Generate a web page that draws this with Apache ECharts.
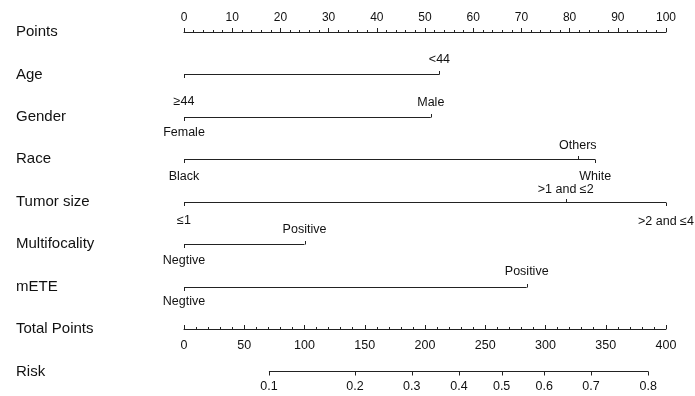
<!DOCTYPE html>
<html>
<head>
<meta charset="utf-8">
<script src="https://cdn.jsdelivr.net/npm/echarts@6/dist/echarts.min.js"></script>
<style>html,body{margin:0;padding:0;background:#fff;}#c{width:695px;height:396px;}</style>
</head>
<body>
<div id="c"></div>
<script>
// ---- data ----
const rowNames = ['Points', 'Age', 'Gender', 'Race', 'Tumor size', 'Multifocality', 'mETE', 'Total Points', 'Risk'];
const pointsMin = 0, pointsMax = 100, pointsStep = 10;
const totalMin = 0, totalMax = 400, totalStep = 50;

const ageLevels = ['≥44', '<44'];
const agePoints = [0, 53];
const genderLevels = ['Female', 'Male'];
const genderPoints = [0, 51.2];
const raceLevels = ['Black', 'Others', 'White'];
const racePoints = [0, 81.7, 85.3];
const tumorLevels = ['≤1', '>1 and ≤2', '>2 and ≤4'];
const tumorPoints = [0, 79.2, 100];
const multiLevels = ['Negtive', 'Positive'];
const multiPoints = [0, 25];
const meteLevels = ['Negtive', 'Positive'];
const metePoints = [0, 71.1];

const riskLabels = ['0.1', '0.2', '0.3', '0.4', '0.5', '0.6', '0.7', '0.8'];
const riskTotalPoints = [70.5, 141.9, 189, 228.2, 263.6, 299, 337.8, 385.3];

// ---- layout (label vertical offsets in px; negative = above line) ----
const labelOffsets = {
  Age: [27, -15],
  Gender: [15, -15],
  Race: [17, -14, 17],
  'Tumor size': [18, -13, 19],
  Multifocality: [16, -15],
  mETE: [14, -16]
};

const variables = [
  { name: 'Age', levels: ageLevels, points: agePoints },
  { name: 'Gender', levels: genderLevels, points: genderPoints },
  { name: 'Race', levels: raceLevels, points: racePoints },
  { name: 'Tumor size', levels: tumorLevels, points: tumorPoints },
  { name: 'Multifocality', levels: multiLevels, points: multiPoints },
  { name: 'mETE', levels: meteLevels, points: metePoints }
].map(v => Object.assign(v, { row: rowNames.indexOf(v.name) }));

const FONT = "'Liberation Sans', Arial, sans-serif";
const INK = '#222';
const crisp = y => Math.round(y) + 0.5;

const chart = echarts.init(document.getElementById('c'), null, { renderer: 'canvas' });

const option = {
  animation: false,
  backgroundColor: '#fff',
  grid: { left: 184, right: 29, top: 32, bottom: 67 },
  xAxis: [
    {
      type: 'value', min: pointsMin, max: pointsMax, interval: pointsStep, position: 'top',
      axisLine: { show: true, lineStyle: { color: INK, width: 1 } },
      axisTick: { show: true, length: 4, lineStyle: { color: INK } },
      minorTick: { show: true, splitNumber: 5, length: 2, lineStyle: { color: INK } },
      axisLabel: { margin: 8, fontSize: 12, color: '#111', fontFamily: FONT },
      splitLine: { show: false }, minorSplitLine: { show: false }
    },
    {
      type: 'value', min: totalMin, max: totalMax, interval: totalStep, position: 'bottom',
      axisLine: { show: true, onZero: false, lineStyle: { color: INK, width: 1 } },
      axisTick: { show: true, inside: true, length: 4, lineStyle: { color: INK } },
      minorTick: { show: true, splitNumber: 5, length: 2, lineStyle: { color: INK } },
      axisLabel: { margin: 10, fontSize: 12.5, color: '#111', fontFamily: FONT },
      splitLine: { show: false }, minorSplitLine: { show: false }
    }
  ],
  yAxis: { type: 'value', min: 0, max: 7, inverse: true, show: false },
  series: [
    {
      // row names
      type: 'custom', xAxisIndex: 0, yAxisIndex: 0, clip: false, silent: true,
      data: rowNames.map((n, i) => [0, i]),
      renderItem: function (params, api) {
        const y = api.coord([0, api.value(1)])[1];
        return {
          type: 'text', x: 16, y: y,
          style: { text: rowNames[params.dataIndex], fill: '#111', font: '15px ' + FONT, align: 'left', verticalAlign: 'middle' }
        };
      }
    },
    {
      // predictor scales
      type: 'custom', xAxisIndex: 0, yAxisIndex: 0, clip: false, silent: true,
      data: variables.map(v => [0, v.row]),
      renderItem: function (params, api) {
        const v = variables[params.dataIndex];
        const offs = labelOffsets[v.name];
        const y = crisp(api.coord([0, v.row])[1]);
        const xs = v.points.map(p => api.coord([p, v.row])[0]);
        const x0 = Math.min.apply(null, xs), x1 = Math.max.apply(null, xs);
        const children = [{
          type: 'line', shape: { x1: x0, y1: y, x2: x1, y2: y },
          style: { stroke: INK, lineWidth: 1 }
        }];
        xs.forEach((x, i) => {
          const dir = offs[i] < 0 ? -1 : 1;
          children.push({
            type: 'line', shape: { x1: crisp(x), y1: y, x2: crisp(x), y2: y + dir * 3.5 },
            style: { stroke: INK, lineWidth: 1 }
          });
          children.push({
            type: 'text', x: x, y: y + offs[i],
            style: { text: v.levels[i], fill: '#111', font: '12.5px ' + FONT, align: 'center', verticalAlign: 'middle' }
          });
        });
        return { type: 'group', children: children };
      }
    },
    {
      // risk scale, mapped through the Total Points axis
      type: 'custom', xAxisIndex: 1, yAxisIndex: 0, clip: false, silent: true,
      data: [[0, rowNames.indexOf('Risk')]],
      renderItem: function (params, api) {
        const row = api.value(1);
        const y = crisp(api.coord([0, row])[1]);
        const xs = riskTotalPoints.map(p => api.coord([p, row])[0]);
        const children = [{
          type: 'line', shape: { x1: xs[0], y1: y, x2: xs[xs.length - 1], y2: y },
          style: { stroke: INK, lineWidth: 1 }
        }];
        xs.forEach((x, i) => {
          children.push({
            type: 'line', shape: { x1: crisp(x), y1: y, x2: crisp(x), y2: y + 4 },
            style: { stroke: INK, lineWidth: 1 }
          });
          children.push({
            type: 'text', x: x, y: y + 15.5,
            style: { text: riskLabels[i], fill: '#111', font: '12.5px ' + FONT, align: 'center', verticalAlign: 'middle' }
          });
        });
        return { type: 'group', children: children };
      }
    }
  ]
};
chart.setOption(option);
</script>
</body>
</html>
